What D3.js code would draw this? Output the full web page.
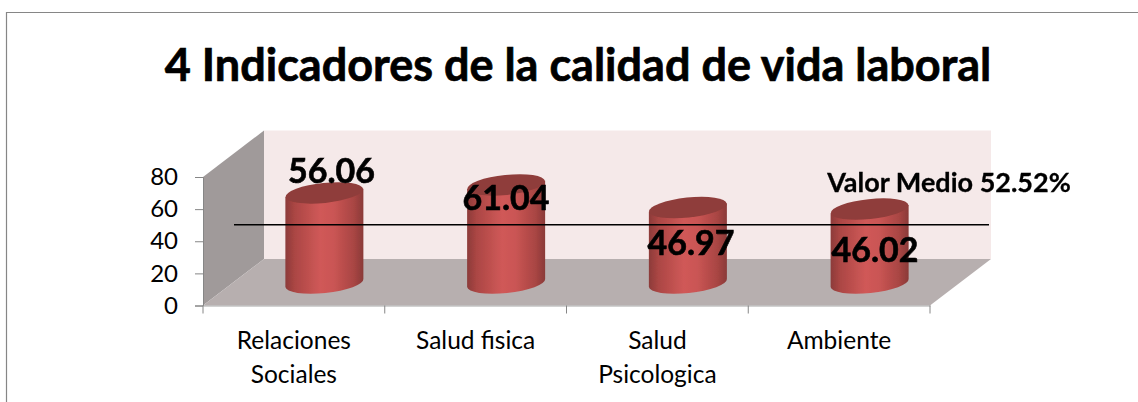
<!DOCTYPE html>
<html>
<head>
<meta charset="utf-8">
<script src="https://cdn.jsdelivr.net/npm/d3@7"></script>
<style>
  html, body { margin: 0; padding: 0; background: #fff; }
  svg { display: block; font-family: Lato, "Open Sans", sans-serif; }
</style>
</head>
<body>
<div id="chart"></div>
<script>
const categories = ["Relaciones Sociales", "Salud fisica", "Salud Psicologica", "Ambiente"];
const categoryLines = [["Relaciones", "Sociales"], ["Salud fisica"], ["Salud", "Psicologica"], ["Ambiente"]];
const values = [56.06, 61.04, 46.97, 46.02];
const yTicks = [0, 20, 40, 60, 80];
const meanValue = 52.52;
const title = "4 Indicadores de la calidad de vida laboral";
const meanLabel = "Valor Medio 52.52%";

const width = 1138, height = 402;
const depthX = 61, depthY = 46.5;

const svg = d3.select("#chart").append("svg")
    .attr("width", width)
    .attr("height", height);

const defs = svg.append("defs");
const grad = defs.append("linearGradient").attr("id", "cyl");
[[0, "#8c3b39"], [0.12, "#ab4644"], [0.45, "#d05958"], [0.62, "#ca5554"], [0.88, "#a84543"], [1, "#8a3a38"]]
    .forEach(d => grad.append("stop").attr("offset", d[0]).attr("stop-color", d[1]));
defs.append("filter").attr("id", "soft")
    .append("feGaussianBlur").attr("stdDeviation", 0.6);

// outer frame, open on the right and at the bottom
svg.append("path")
    .attr("d", "M6.5,402V12.5H1138")
    .attr("fill", "none")
    .attr("stroke", "#868686")
    .attr("stroke-width", 1.2);

svg.append("text")
    .attr("x", 578).attr("y", 80.5)
    .attr("text-anchor", "middle")
    .attr("font-size", 45)
    .attr("font-weight", 700)
    .attr("fill", "#000")
    .attr("stroke", "#000")
    .attr("stroke-width", 0.7)
    .text(title);

const y = d3.scaleLinear().domain([0, 80]).range([305.5, 177]);
const x = d3.scaleBand().domain(categories).range([203, 930]);

// 3D walls and floor
const walls = svg.append("g").attr("filter", "url(#soft)");
const x0 = x.range()[0], x1 = x.range()[1], y0 = y(0), yTop = y(80);
walls.append("path")
    .attr("d", `M${x0+depthX},${yTop-depthY}H${x1+depthX}V${y0-depthY}H${x0+depthX}Z`)
    .attr("fill", "#f5e9e9");
walls.append("path")
    .attr("d", `M${x0},${yTop}L${x0+depthX},${yTop-depthY}V${y0-depthY}L${x0},${y0}Z`)
    .attr("fill", "#a09a9a");
walls.append("path")
    .attr("d", `M${x0},${y0}L${x0+depthX},${y0-depthY}H${x1+depthX}L${x1},${y0}Z`)
    .attr("fill", "#b7afaf");

// axes
const yAxis = svg.append("g")
    .attr("transform", `translate(${x0},0)`)
    .call(d3.axisLeft(y).tickValues(yTicks).tickSize(8).tickPadding(17));
yAxis.select(".domain").attr("stroke", "#868686");
yAxis.selectAll("line").attr("stroke", "#868686");
yAxis.selectAll("text").attr("font-size", 24).attr("font-family", "Lato").attr("fill", "#000");

const xAxis = svg.append("g")
    .attr("transform", `translate(0,${y0})`)
    .call(d3.axisBottom(x).tickSize(0).tickFormat(""));
xAxis.select(".domain").attr("stroke", "#a5a5a5");
xAxis.selectAll(".tick").remove();
xAxis.selectAll("line.sep")
    .data(categories.concat("end"))
    .join("line")
    .attr("class", "sep")
    .attr("x1", (d, i) => x0 + i * x.step())
    .attr("x2", (d, i) => x0 + i * x.step())
    .attr("y1", 0).attr("y2", 8)
    .attr("stroke", "#868686");

categories.forEach((c, i) => {
  const t = svg.append("text")
      .attr("text-anchor", "middle")
      .attr("font-size", 24.5)
      .attr("fill", "#000");
  categoryLines[i].forEach((line, k) => {
    t.append("tspan")
      .attr("x", x(c) + x.bandwidth() / 2)
      .attr("y", 349 + k * 33.5)
      .text(line);
  });
});

// cylinders
const rx = 39, ry = 10, tilt = -6;
const slope = Math.tan(tilt * Math.PI / 180);
const barOffsetX = depthX / 2, baseLift = y(0) - 283;
const bars = svg.append("g").attr("filter", "url(#soft)");
categories.forEach((c, i) => {
  const cx = x(c) + x.bandwidth() / 2 + barOffsetX;
  const yb = y(0) - baseLift;
  const yt = y(values[i]) - baseLift;
  const dy = rx * slope;
  bars.append("path")
    .attr("d", `M${cx-rx},${yt-dy}L${cx-rx},${yb-dy}A${rx},${ry} ${tilt} 0 0 ${cx+rx},${yb+dy}L${cx+rx},${yt+dy}Z`)
    .attr("fill", "url(#cyl)");
  bars.append("ellipse")
    .attr("transform", `translate(${cx},${yt}) rotate(${tilt})`)
    .attr("rx", rx).attr("ry", ry)
    .attr("fill", "#8f3d3a");
});

// mean line
svg.append("line")
    .attr("x1", 234).attr("x2", 989)
    .attr("y1", y(meanValue) + 3.5).attr("y2", y(meanValue) + 3.5)
    .attr("stroke", "#000")
    .attr("stroke-width", 1.5);

const labelPos = [[331.5, 183], [506, 210], [691, 255], [875, 262]];
svg.selectAll("text.val")
    .data(values)
    .join("text")
    .attr("class", "val")
    .attr("x", (d, i) => labelPos[i][0])
    .attr("y", (d, i) => labelPos[i][1])
    .attr("text-anchor", "middle")
    .attr("font-size", 34)
    .attr("font-weight", 700)
    .attr("fill", "#000")
    .attr("stroke", "#000")
    .attr("stroke-width", 0.6)
    .text(d => d.toFixed(2));

svg.append("text")
    .attr("x", 949).attr("y", 191.5)
    .attr("text-anchor", "middle")
    .attr("font-size", 27)
    .attr("font-weight", 700)
    .attr("fill", "#000")
    .attr("stroke", "#000")
    .attr("stroke-width", 0.3)
    .text(meanLabel);
</script>
</body>
</html>
